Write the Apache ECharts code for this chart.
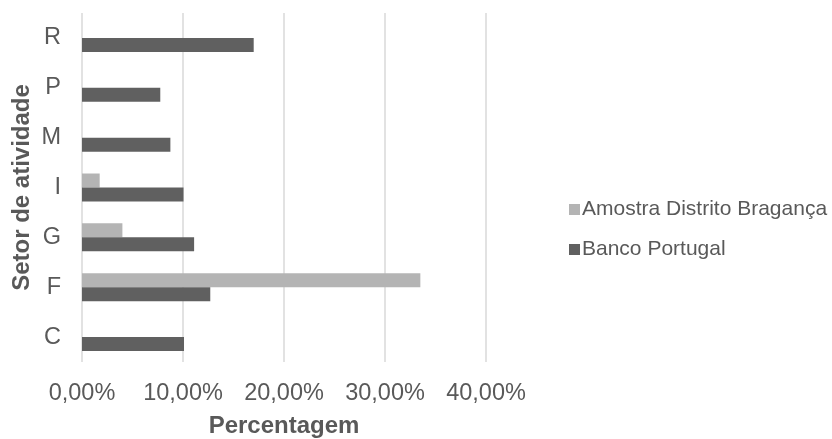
<!DOCTYPE html>
<html>
<head>
<meta charset="utf-8">
<script src="https://cdn.jsdelivr.net/npm/echarts@6/dist/echarts.min.js"></script>
<style>
  html, body { margin: 0; padding: 0; background: #fff; }
  #chart { width: 832px; height: 439px; }
</style>
</head>
<body>
<div id="chart"></div>
<script>
// Sectors of activity, bottom to top
const categories = ['C', 'F', 'G', 'I', 'M', 'P', 'R'];
// Share of companies per sector (%)
const amostraBraganca = [null, 33.5, 4.0, 1.75, null, null, null];
const bancoPortugal = [10.1, 12.7, 11.1, 10.05, 8.75, 7.75, 17.0];
const seriesNames = ['Amostra Distrito Bragança', 'Banco Portugal'];
const xTicks = { min: 0, max: 40, step: 10 };

const chart = echarts.init(document.getElementById('chart'), null, { renderer: 'canvas' });
const font = 'Liberation Sans, Arial, sans-serif';
const textColor = '#595959';

chart.setOption({
  animation: false,
  backgroundColor: '#ffffff',
  grid: {
    left: 82, right: 346, top: 13, bottom: 77,
    containLabel: false,
    outerBoundsMode: 'none'
  },
  legend: {
    orient: 'vertical',
    left: 569,
    top: 199,
    padding: 0,
    itemWidth: 11,
    itemHeight: 11,
    itemGap: 19,
    icon: 'rect',
    data: [seriesNames[0], seriesNames[1]],
    textStyle: { fontFamily: font, fontSize: 21, color: textColor, padding: [0, 0, 0, -3] }
  },
  xAxis: {
    type: 'value',
    min: xTicks.min,
    max: xTicks.max,
    interval: xTicks.step,
    name: 'Percentagem',
    nameLocation: 'middle',
    nameGap: 52,
    nameTextStyle: { fontFamily: font, fontSize: 24, fontWeight: 'bold', color: textColor },
    axisLine: { show: false },
    axisTick: { show: false },
    axisLabel: {
      margin: 20,
      fontFamily: font,
      fontSize: 23.5,
      color: textColor,
      formatter: v => v.toFixed(2).replace('.', ',') + '%'
    },
    splitLine: { show: true, lineStyle: { color: '#d9d9d9', width: 1.5 } }
  },
  yAxis: {
    type: 'category',
    data: categories,
    name: 'Setor de atividade',
    nameLocation: 'middle',
    nameGap: 48,
    nameTextStyle: { fontFamily: font, fontSize: 24, fontWeight: 'bold', color: textColor },
    axisLine: { show: false },
    axisTick: { show: false },
    axisLabel: {
      margin: 21,
      fontFamily: font,
      fontSize: 23.5,
      color: textColor
    }
  },
  series: [
    {
      name: seriesNames[0],
      type: 'bar',
      data: amostraBraganca,
      barWidth: 14,
      barGap: '0%',
      itemStyle: { color: '#b4b4b4' }
    },
    {
      name: seriesNames[1],
      type: 'bar',
      data: bancoPortugal,
      barWidth: 14,
      barGap: '0%',
      itemStyle: { color: '#606060' }
    }
  ]
});
</script>
</body>
</html>
